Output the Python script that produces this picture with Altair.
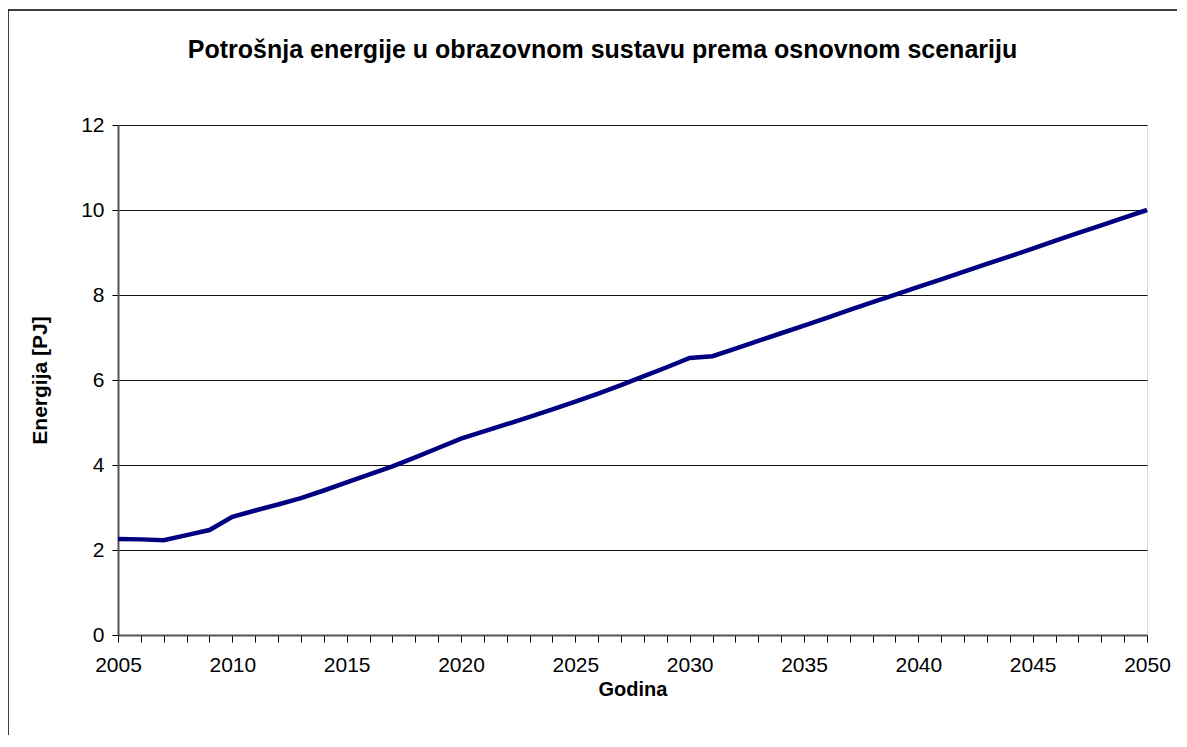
import altair as alt
import pandas as pd

years = list(range(2005, 2051))
energy = [2.26, 2.25, 2.23, 2.35, 2.47, 2.78, 2.93, 3.07, 3.22, 3.40,
          3.59, 3.78, 3.97, 4.18, 4.40, 4.62, 4.79, 4.96, 5.13, 5.31,
          5.49, 5.68, 5.88, 6.09, 6.30, 6.52, 6.56, 6.74, 6.92, 7.10,
          7.28, 7.46, 7.65, 7.83, 8.01, 8.19, 8.37, 8.55, 8.73, 8.91,
          9.09, 9.28, 9.46, 9.64, 9.82, 10.0]
y_ticks = [0, 2, 4, 6, 8, 10, 12]

title = "Potrošnja energije u obrazovnom sustavu prema osnovnom scenariju"
x_title = "Godina"
y_title = "Energija [PJ]"

df = pd.DataFrame({"year": years, "energy": energy})

FONT = "Liberation Sans"

line = alt.Chart(df).mark_line(color="#000080", strokeWidth=4.5).encode(
    x=alt.X("year:Q",
            scale=alt.Scale(domain=[2005, 2050], nice=False, zero=False),
            axis=alt.Axis(values=years, format="d", grid=False,
                          labelExpr="datum.value % 5 == 0 ? datum.label : ''",
                          title=x_title, tickSize=7, tickColor="#000",
                          domainColor="#555", domainWidth=2,
                          labelFontSize=21, labelColor="#000", labelPadding=12,
                          titleFontSize=20, titleFontWeight="bold", titleColor="#000",
                          titlePadding=4, labelFlush=False)),
    y=alt.Y("energy:Q",
            scale=alt.Scale(domain=[0, 12], nice=False),
            axis=alt.Axis(values=y_ticks, grid=True, gridColor="#111", gridWidth=1,
                          title=y_title, tickSize=6, tickColor="#000",
                          domainColor="#555", domainWidth=2,
                          labelFontSize=21, labelColor="#000", labelPadding=8,
                          titleFontSize=21, titleFontWeight="bold", titleColor="#000",
                          titlePadding=30)),
)

# decorative outer frame of the chart area (left/top edges visible)
frame = alt.Chart(pd.DataFrame({"k": [0]})).mark_rect(
    fill=None, stroke="#000", strokeWidth=1.5
).encode(x=alt.value(-110), x2=alt.value(1120), y=alt.value(-115), y2=alt.value(660))

chart = alt.layer(frame, line).properties(
    width=1029, height=510,
    title=alt.TitleParams(title, fontSize=25, fontWeight="bold", font=FONT,
                          color="#000", anchor="middle", offset=-54, dx=-30),
    autosize=alt.AutoSizeParams(type="none"),
    padding={"left": 110, "top": 117, "right": 30, "bottom": 100},
).configure_view(
    stroke="#808080", strokeWidth=2
).configure_axis(
    labelFont=FONT, titleFont=FONT
).configure(background="white")

chart.save("out.html", embed_options={"renderer": "svg", "actions": False})
